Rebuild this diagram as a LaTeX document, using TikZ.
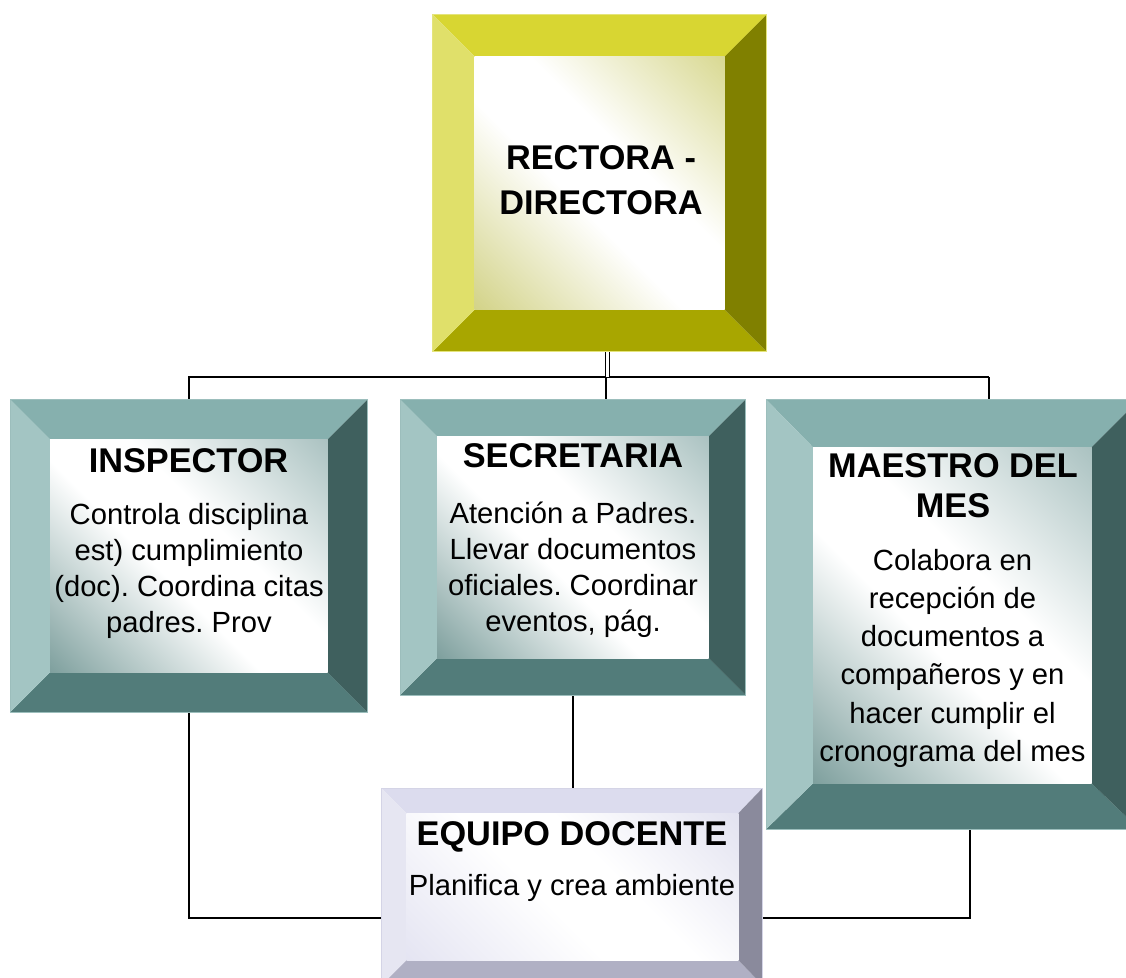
\documentclass[tikz,border=0pt]{standalone}
\usepackage{fontspec}
\setmainfont{Liberation Sans}
\frenchspacing
% yellow box colours
\definecolor{Ytop}{HTML}{D8D632}
\definecolor{Ybot}{HTML}{A8A600}
\definecolor{Ylft}{HTML}{E0E06A}
\definecolor{Yrgt}{HTML}{808000}
\definecolor{Yedge}{HTML}{E4E47C}
\definecolor{YtintA}{HTML}{D2D286}
\definecolor{YtintB}{HTML}{D8D890}
% teal box colours
\definecolor{Ttop}{HTML}{86B0AE}
\definecolor{Tbot}{HTML}{527C7A}
\definecolor{Tlft}{HTML}{A3C5C3}
\definecolor{Trgt}{HTML}{3F605E}
\definecolor{Tedge}{HTML}{9CBEBC}
\definecolor{TtintA}{HTML}{7C9E9C}
\definecolor{TtintB}{HTML}{A9C1C0}
% lavender box colours
\definecolor{Ltop}{HTML}{DCDCEE}
\definecolor{Lbot}{HTML}{B0B0C4}
\definecolor{Llft}{HTML}{E6E6F2}
\definecolor{Lrgt}{HTML}{8A8A9C}
\definecolor{Ledge}{HTML}{D4D4E6}
\definecolor{LtintA}{HTML}{E4E4F2}
\definecolor{LtintB}{HTML}{E2E2F0}
\pgfdeclareverticalshading{shY}{100bp}{color(0bp)=(YtintA); color(14bp)=(YtintA); color(44bp)=(white); color(58bp)=(white); color(86bp)=(YtintB); color(100bp)=(YtintB)}
\pgfdeclareverticalshading{shT}{100bp}{color(0bp)=(TtintA); color(14bp)=(TtintA); color(44bp)=(white); color(58bp)=(white); color(86bp)=(TtintB); color(100bp)=(TtintB)}
\pgfdeclareverticalshading{shL}{100bp}{color(0bp)=(LtintA); color(14bp)=(LtintA); color(44bp)=(white); color(58bp)=(white); color(86bp)=(LtintB); color(100bp)=(LtintB)}
% #1 colour set, #2 x1, #3 y1, #4 x2, #5 y2, #6 left, #7 top, #8 right, #9 bottom bevel
\newcommand{\bevbox}[9]{%
  \fill[#1top] (#2,#3) -- (#4,#3) -- (#4-#8,#3+#7) -- (#2+#6,#3+#7) -- cycle;
  \fill[#1bot] (#2,#5) -- (#4,#5) -- (#4-#8,#5-#9) -- (#2+#6,#5-#9) -- cycle;
  \fill[#1lft] (#2,#3) -- (#2+#6,#3+#7) -- (#2+#6,#5-#9) -- (#2,#5) -- cycle;
  \fill[#1rgt] (#4,#3) -- (#4-#8,#3+#7) -- (#4-#8,#5-#9) -- (#4,#5) -- cycle;
  \shade[shading=sh#1, shading angle=-45] (#2+#6,#3+#7) rectangle (#4-#8,#5-#9);
  \draw[#1edge, line width=0.8pt] (#2,#3) rectangle (#4,#5);
}
\newcommand{\mlines}[1]{\vtop{\halign{\hfil##\hfil\cr#1\crcr}}}
\tikzset{
  boxnode/.style={draw=none, inner sep=0pt, outer sep=0pt, rectangle},
  conn/.style={draw=black, line width=1.8pt},
  titletxt/.style={anchor=base, inner sep=0pt, font=\bfseries\fontsize{34.3}{44.7}\selectfont},
  bodytxt/.style={anchor=base, inner sep=0pt, font=\fontsize{29.2}{36}\selectfont}
}
\begin{document}
\begin{tikzpicture}[x=1pt, y=-1pt]
\fill[white] (0,0) rectangle (1126,977);
\useasboundingbox (0,0) rectangle (1126,977);
\clip (0,0) rectangle (1126,977);

% outer box nodes (for connectors)
\node[boxnode, minimum width=334pt, minimum height=337pt] (rec) at (599.7,183.2) {};
\node[boxnode, minimum width=357.7pt, minimum height=313pt] (ins) at (188.85,555.8) {};
\node[boxnode, minimum width=345.7pt, minimum height=295.7pt] (sec) at (572.85,547.15) {};
\node[boxnode, minimum width=373.5pt, minimum height=430pt] (mae) at (952.75,614.3) {};
\node[boxnode, minimum width=380.6pt, minimum height=196.7pt] (eq) at (572,886.65) {};

% junction coordinates
\coordinate (jD) at (607.5,377);
\coordinate (jS) at (605.7,377);
\coordinate (jM) at (989,377);
\coordinate (jB) at (970,918);
\coordinate (jL) at (188.85,918);

% connectors
\draw[conn] (ins.north) |- (jM);
\draw[black, line width=1.3pt, double=white, double distance=2.4pt] (rec.south -| jD) -- (jD);
\draw[conn] (jS) -- (sec.north -| jS);
\draw[conn] (jM) -- (mae.north -| jM);
\draw[conn] (ins.south) |- (eq.west |- jL);
\draw[conn] (sec.south) -- (eq.north -| sec.south);
\draw[conn] (mae.south -| jB) |- (eq.east |- jB);

% boxes
\bevbox{Y}{432.7}{14.7}{766.7}{351.7}{42}{42}{42}{42}
\bevbox{T}{10}{399.3}{367.7}{712.3}{40}{40}{40}{40}
\bevbox{T}{400}{399.3}{745.7}{695}{37}{37}{37}{37}
\bevbox{T}{766}{399.3}{1139.5}{829.3}{47}{48}{48}{46}
\bevbox{L}{381.7}{788.3}{762.3}{985}{25}{25}{24}{25}

% texts
\node[titletxt] (recT) at (601,169.3) {\mlines{RECTORA -\cr DIRECTORA}};

\node[titletxt] (insT) at (188.5,472) {INSPECTOR};
\node[bodytxt] (insB) at (189,524.5) {\mlines{Controla disciplina\cr est) cumplimiento\cr (doc). Coordina citas\cr padres. Prov}};

\node[titletxt] (secT) at (573,467.3) {SECRETARIA};
\node[bodytxt] (secB) at (573,523.3) {\mlines{Atención a Padres.\cr Llevar documentos\cr oficiales. Coordinar\cr eventos, pág.}};

\node[titletxt, font=\bfseries\fontsize{34.3}{40}\selectfont] (maeT) at (953,477.3) {\mlines{MAESTRO DEL\cr MES}};
\node[bodytxt, font=\fontsize{29.2}{38.3}\selectfont] (maeB) at (952.5,570) {\mlines{Colabora en\cr recepción de\cr documentos a\cr compañeros y en\cr hacer cumplir el\cr cronograma del mes}};

\node[titletxt] (eqT) at (572,845) {EQUIPO DOCENTE};
\node[bodytxt] (eqB) at (572,895) {Planifica y crea ambiente};
\end{tikzpicture}
\end{document}
